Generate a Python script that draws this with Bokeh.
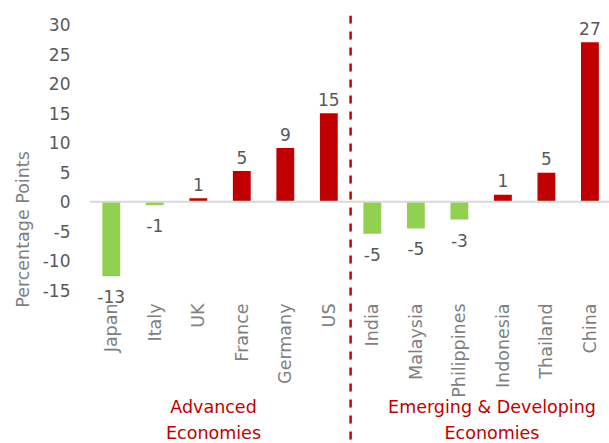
import math
from bokeh.plotting import figure
from bokeh.models import Range1d, FixedTicker, Span, ColumnDataSource
from bokeh.core.properties import value
from bokeh.embed import file_html
from bokeh.resources import INLINE

categories = ["Japan", "Italy", "UK", "France", "Germany", "US",
              "India", "Malaysia", "Philippines", "Indonesia", "Thailand", "China"]
values = [-12.6, -0.6, 0.6, 5.2, 9.1, 15.0, -5.4, -4.5, -3.0, 1.2, 4.9, 27.0]
value_labels = ["-13", "-1", "1", "5", "9", "15", "-5", "-5", "-3", "1", "5", "27"]
y_ticks = [-15, -10, -5, 0, 5, 10, 15, 20, 25, 30]
y_tick_labels = ["-15", "-10", "-5", "0", "5", "10", "15", "20", "25", "30"]
group_names = ["Advanced\nEconomies", "Emerging & Developing\nEconomies"]
y_title = "Percentage Points"

RED = "#C00000"
GREEN = "#92D050"
FONT = "DejaVu Sans"

xs = list(range(len(categories)))
colors = [RED if v > 0 else GREEN for v in values]

p = figure(width=609, height=443, output_backend="svg", toolbar_location=None,
           x_range=Range1d(-0.5, 11.45), y_range=Range1d(-40.89, 31.52),
           x_axis_type=None, min_border_left=89, min_border_right=0,
           min_border_top=15, min_border_bottom=0)
p.outline_line_color = None
p.grid.visible = False
p.background_fill_color = "white"

# y axis
ya = p.yaxis[0]
ya.ticker = FixedTicker(ticks=y_ticks)
ya.major_label_overrides = {t: s for t, s in zip(y_ticks, y_tick_labels)}
ya.axis_line_color = None
ya.major_tick_line_color = None
ya.minor_tick_line_color = None
ya.major_tick_out = 0
ya.major_tick_in = 0
ya.minor_tick_out = 0
ya.major_label_text_font = FONT
ya.major_label_text_font_size = "17px"
ya.major_label_text_color = "#595959"
ya.major_label_standoff = 19
ya.axis_label = y_title
ya.axis_label_text_font = FONT
ya.axis_label_text_font_size = "17.5px"
ya.axis_label_text_font_style = "normal"
ya.axis_label_text_color = "#7f7f7f"
ya.axis_label_standoff = 7

# zero line
p.add_layout(Span(location=0, dimension="width", line_color="#d9d9d9", line_width=2))

# bars
src = ColumnDataSource(dict(x=xs, top=values, color=colors))
p.vbar(x="x", top="top", bottom=0, width=0.41, fill_color="color", line_color=None, source=src)

# separator
p.add_layout(Span(location=5.5, dimension="height", line_color=RED, line_width=2.5,
                  line_dash="8 8"))

# data labels
pos = ColumnDataSource(dict(x=[x for x, v in zip(xs, values) if v > 0],
                            y=[v for v in values if v > 0],
                            t=[l for l, v in zip(value_labels, values) if v > 0]))
neg = ColumnDataSource(dict(x=[x for x, v in zip(xs, values) if v <= 0],
                            y=[v for v in values if v <= 0],
                            t=[l for l, v in zip(value_labels, values) if v <= 0]))
p.text(x="x", y="y", text="t", source=pos, text_align="center", text_baseline="alphabetic",
       y_offset=-14, text_font=value(FONT), text_font_size="17px", text_color="#595959")
p.text(x="x", y="y", text="t", source=neg, text_align="center", text_baseline="top",
       y_offset=14, text_font=value(FONT), text_font_size="17px", text_color="#595959")

# category labels
cat_src = ColumnDataSource(dict(x=xs, y=[-17.2] * len(xs), t=categories))
p.text(x="x", y="y", text="t", source=cat_src, angle=math.pi / 2, text_align="right",
       text_baseline="middle", text_font=value(FONT), text_font_size="17.5px",
       text_color="#7f7f7f")

# group labels
grp_src = ColumnDataSource(dict(x=[2.35, 8.75], y=[-33.1, -33.1], t=group_names))
p.text(x="x", y="y", text="t", source=grp_src, text_align="center", text_baseline="top",
       text_font=value(FONT), text_font_size="17.5px", text_color=RED,
       text_line_height=1.3)

open("out.html", "w").write(file_html(p, INLINE))
